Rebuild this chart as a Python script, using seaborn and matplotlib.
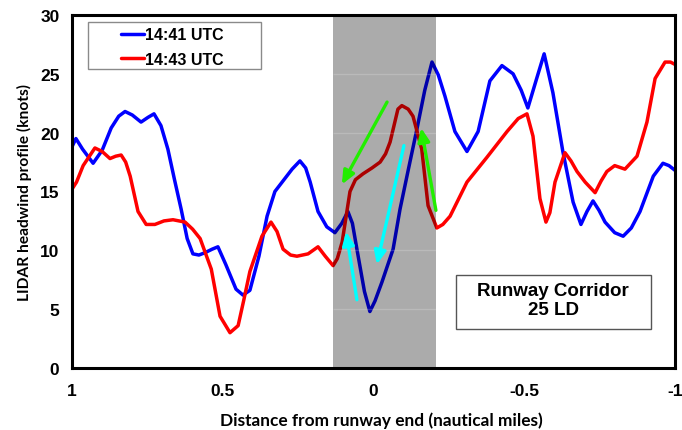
import numpy as np
import pandas as pd
import matplotlib
matplotlib.use("Agg")
import matplotlib.pyplot as plt
from matplotlib.patches import Rectangle
import seaborn as sns

# ---------------- data ----------------
blue_x = [1.0, 0.987, 0.965, 0.93, 0.90, 0.87, 0.845, 0.824, 0.80, 0.771, 0.748, 0.728,
          0.705, 0.682, 0.66, 0.638, 0.618, 0.599, 0.579, 0.559, 0.535, 0.516, 0.49,
          0.456, 0.433, 0.41, 0.38, 0.353, 0.327, 0.294, 0.27, 0.244, 0.225, 0.21, 0.184,
          0.155, 0.128, 0.105, 0.085, 0.07, 0.055, 0.03, 0.012, -0.005, -0.028, -0.065,
          -0.088, -0.115, -0.144, -0.17, -0.194, -0.215, -0.237, -0.27, -0.31, -0.347,
          -0.386, -0.426, -0.463, -0.49, -0.512, -0.54, -0.566, -0.595, -0.628, -0.662,
          -0.688, -0.708, -0.728, -0.748, -0.768, -0.80, -0.828, -0.855, -0.884, -0.928,
          -0.96, -0.98, -1.0]
blue_y = [18.8, 19.5, 18.6, 17.4, 18.5, 20.4, 21.4, 21.8, 21.5, 20.9, 21.3, 21.6,
          20.6, 18.6, 16.0, 13.5, 11.0, 9.7, 9.6, 9.8, 10.1, 10.3, 8.8,
          6.7, 6.2, 6.6, 9.5, 12.9, 15.0, 16.1, 16.9, 17.6, 17.0, 15.8, 13.3,
          12.0, 11.5, 12.3, 13.3, 12.3, 10.1, 6.5, 4.8, 5.7, 7.3, 10.1,
          13.5, 16.8, 20.3, 23.6, 26.0, 24.9, 23.1, 20.1, 18.4, 20.1,
          24.4, 25.7, 25.0, 23.6, 22.1, 24.5, 26.7, 23.4, 18.4, 14.1,
          12.2, 13.3, 14.2, 13.4, 12.4, 11.5, 11.2, 11.9, 13.3, 16.3,
          17.4, 17.2, 16.8]

red_x = [1.0, 0.985, 0.963, 0.924, 0.90, 0.874, 0.855, 0.837, 0.822, 0.807, 0.781, 0.754,
         0.725, 0.695, 0.665, 0.625, 0.60, 0.575, 0.538, 0.509, 0.476, 0.449, 0.43, 0.41,
         0.37, 0.34, 0.32, 0.30, 0.275, 0.254, 0.217, 0.184, 0.16, 0.134, 0.12, 0.104,
         0.078, 0.06, 0.035, 0.005, -0.022, -0.04, -0.055, -0.081, -0.094, -0.115, -0.131,
         -0.16, -0.181, -0.21, -0.23, -0.254, -0.31, -0.376, -0.443, -0.48, -0.509, -0.529,
         -0.552, -0.572, -0.585, -0.602, -0.635, -0.655, -0.675, -0.702, -0.735, -0.755,
         -0.774, -0.80, -0.834, -0.874, -0.907, -0.934, -0.967, -0.985, -1.0]
red_y = [15.2, 15.8, 17.2, 18.7, 18.4, 17.8, 18.0, 18.1, 17.5, 16.3, 13.3, 12.2,
         12.2, 12.5, 12.6, 12.4, 11.8, 11.0, 8.4, 4.4, 3.0, 3.6, 5.8, 8.2,
         11.2, 12.4, 11.6, 10.1, 9.6, 9.5, 9.7, 10.3, 9.5, 8.7, 9.3, 10.7,
         15.0, 16.0, 16.5, 17.0, 17.5, 18.2, 19.2, 22.0, 22.3, 22.0, 21.4,
         18.6, 13.8, 11.9, 12.2, 12.9, 15.8, 17.9, 20.1, 21.2, 21.6, 19.7,
         14.4, 12.4, 13.2, 15.8, 18.3, 17.6, 16.7, 15.8, 14.9, 15.9,
         16.7, 17.2, 16.9, 18.0, 20.9, 24.6, 26.0, 26.0, 25.8]

series_names = ["14:41 UTC", "14:43 UTC"]
x_ticks = [1, 0.5, 0, -0.5, -1]
x_tick_labels = ["1", "0.5", "0", "-0.5", "-1"]
y_ticks = [0, 5, 10, 15, 20, 25, 30]

# shaded runway region (distance limits)
shade_x = [0.133, -0.206]

# arrows: (tail_x, tail_y, head_x, head_y)
green_arrows = [(-0.045, 22.6, 0.105, 15.6), (-0.207, 13.4, -0.158, 20.4)]
cyan_arrows = [(0.055, 5.8, 0.091, 11.6), (-0.101, 18.9, -0.011, 8.8)]

box_text = "Runway Corridor\n25 LD"

# ---------------- plotting ----------------
sns.set_style("white")
plt.rcParams["font.family"] = ["Liberation Sans", "DejaVu Sans"]
plt.rcParams["axes.unicode_minus"] = False
plt.rcParams["text.color"] = "black"
plt.rcParams["xtick.color"] = "black"
plt.rcParams["ytick.color"] = "black"
plt.rcParams["axes.labelcolor"] = "black"

df = pd.concat([
    pd.DataFrame({"distance": blue_x, "headwind": blue_y, "time": series_names[0]}),
    pd.DataFrame({"distance": red_x, "headwind": red_y, "time": series_names[1]}),
])

fig = plt.figure(figsize=(6.82, 4.31), dpi=100)
ax = fig.add_axes([72 / 682, 62 / 431, 603 / 682, 353 / 431])

sns.lineplot(data=df, x="distance", y="headwind", hue="time",
             palette={series_names[0]: "#0000ff", series_names[1]: "#ff0000"},
             estimator=None, sort=True, lw=2.5, ax=ax, zorder=2, legend=True)

ax.set_xlim(1, -1)
ax.set_ylim(0, 30)

# darkening overlay of runway region
ax.axvspan(shade_x[0], shade_x[1], color="black", alpha=0.33, lw=0, zorder=3)
ax.hlines([5, 10, 20, 25], shade_x[0], shade_x[1], color="white", alpha=0.18, lw=1.0, zorder=3.2)

for (tx, ty, hx, hy) in green_arrows:
    ax.annotate("", xy=(hx, hy), xytext=(tx, ty),
                arrowprops=dict(arrowstyle="-|>,head_length=0.5,head_width=0.22",
                                color="#22ee00", lw=2.4,
                                mutation_scale=16, shrinkA=0, shrinkB=0), zorder=5)
for (tx, ty, hx, hy) in cyan_arrows:
    ax.annotate("", xy=(hx, hy), xytext=(tx, ty),
                arrowprops=dict(arrowstyle="-|>,head_length=0.5,head_width=0.22",
                                color="#00ffff", lw=2.4,
                                mutation_scale=16, shrinkA=0, shrinkB=0), zorder=5)

# ticks
ax.set_xticks(x_ticks)
ax.set_xticklabels(x_tick_labels)
ax.set_yticks(y_ticks)
ax.tick_params(axis="both", direction="in", length=5, width=2, color="black",
               labelcolor="black", labelsize=12.5)
ax.tick_params(axis="x", pad=11)
ax.tick_params(axis="y", pad=9)
for lab in ax.get_xticklabels() + ax.get_yticklabels():
    lab.set_fontweight("bold")

for side in ["left", "bottom", "top", "right"]:
    ax.spines[side].set_visible(True)
    ax.spines[side].set_color("black")
    ax.spines[side].set_linewidth(2.2)

# axis labels
ax.set_xlabel("Distance from runway end (nautical miles)", fontsize=12.4,
              fontweight="bold", family=["Lato", "DejaVu Sans"], color="black")
ax.xaxis.set_label_coords((381.5 - 72) / 603, -(412 - 369) / 353)
ax.set_ylabel("LIDAR headwind profile (knots)", fontsize=11.2,
              fontweight="bold", family=["Lato", "DejaVu Sans"], labelpad=6,
              color="black")

# legend
ax.add_patch(Rectangle(((88 - 72) / 603, (369 - 70) / 353), 173 / 603, 47 / 353,
                       transform=ax.transAxes, fill=True, fc="white",
                       ec="#8a8a8a", lw=1.0, zorder=1))
handles, labels = ax.get_legend_handles_labels()
leg = ax.legend(handles, labels, loc="upper left",
                bbox_to_anchor=((121 - 72) / 603 - 0.006, (369 - 25) / 353),
                frameon=False, handlelength=1.45, handletextpad=0.05,
                labelspacing=0.6, borderaxespad=0, borderpad=0.2, fontsize=11.5,
                labelcolor="black")
for t in leg.get_texts():
    t.set_fontweight("bold")
leg.set_zorder(7)

# annotation box
ax.add_patch(Rectangle(((456 - 72) / 603, (369 - 330) / 353), 195 / 603, 54 / 353,
                       transform=ax.transAxes, fc="white", ec="#555555",
                       lw=1.0, zorder=6))
ax.text((553 - 72) / 603, (369 - 301) / 353, box_text, transform=ax.transAxes,
        ha="center", va="center", fontsize=13.5, fontweight="bold",
        linespacing=1.1, zorder=7, color="black")

fig.savefig("out.png", dpi=100)
